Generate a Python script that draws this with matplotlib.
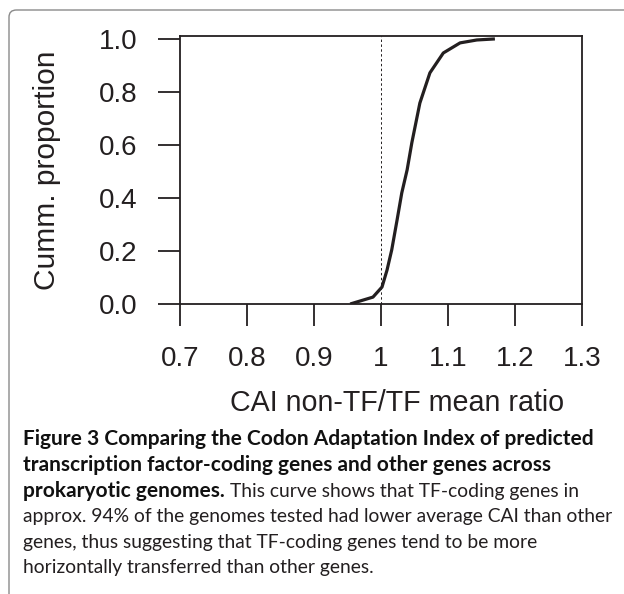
import matplotlib.pyplot as plt
from matplotlib.patches import FancyBboxPatch

# values
ratio = [0.954, 0.988, 1.0015, 1.009, 1.016, 1.024, 1.031, 1.039, 1.046,
         1.058, 1.073, 1.093, 1.118, 1.143, 1.170]
cumprop = [0.0, 0.026, 0.064, 0.128, 0.204, 0.317, 0.419, 0.506, 0.608,
           0.758, 0.872, 0.947, 0.985, 0.996, 1.0]
xticks = [0.7, 0.8, 0.9, 1.0, 1.1, 1.2, 1.3]
xticklabels = ['0.7', '0.8', '0.9', '1', '1.1', '1.2', '1.3']
yticks = [0.0, 0.2, 0.4, 0.6, 0.8, 1.0]
yticklabels = ['0.0', '0.2', '0.4', '0.6', '0.8', '1.0']

ink = '#231f20'
W, H = 624, 594

fig = plt.figure(figsize=(6.24, 5.94), dpi=100)
plt.rcParams['font.family'] = 'Liberation Sans'

# rounded frame, open to the right and bottom
fig.patches.append(FancyBboxPatch((9 / W, -0.2), 1.2, 1 - 10 / H + 0.2,
                                  boxstyle='round,pad=0,rounding_size=0.012',
                                  transform=fig.transFigure, fc='none',
                                  ec='#8a8a8a', lw=1.0))

ax = fig.add_axes([180 / W, 1 - 304 / H, 402 / W, 268 / H])
ax.plot(ratio, cumprop, color=ink, lw=2.3, solid_capstyle='butt')
ax.axvline(1.0, color=ink, lw=0.7, ls=(0, (2.5, 2.5)))
ax.set_xlim(0.7, 1.3)
ax.set_ylim(0, 1.011)
for s in ax.spines.values():
    s.set_linewidth(1.3)
    s.set_color(ink)
ax.set_xticks(xticks)
ax.set_xticklabels(xticklabels)
ax.set_yticks(yticks)
ax.set_yticklabels(yticklabels)
ax.tick_params(direction='out', length=15.5, width=1.3, color=ink,
               labelsize=20, labelcolor=ink, pad=15)

fig.text(47 / W, 1 - 170 / H, 'Cumm. proportion', rotation=90,
         ha='center', va='center', fontsize=21.5, color=ink)
fig.text(397 / W, 1 - 403 / H, 'CAI non-TF/TF mean ratio',
         ha='center', va='center', fontsize=20.6, color=ink)

# caption
cap_font = 'Lato'
x0 = 23
base = [445, 471, 497, 522, 548, 573]
bold_lines = ['Figure 3 Comparing the Codon Adaptation Index of predicted',
              'transcription factor-coding genes and other genes across']
plain = ['approx. 94% of the genomes tested had lower average CAI than other',
         'genes, thus suggesting that TF-coding genes tend to be more',
         'horizontally transferred than other genes.']
r = fig.canvas.get_renderer()


def fit_size(text, weight, target):
    t = fig.text(0, 0, text, fontsize=10, fontweight=weight, family=cap_font)
    w = t.get_window_extent(renderer=r).width
    t.remove()
    return 10 * target / w


bold_size = fit_size(bold_lines[0], 'bold', 592 - x0)
plain_size = fit_size(plain[0], 'normal', 615 - x0)

for i, t in enumerate(bold_lines):
    fig.text(x0 / W, 1 - base[i] / H, t, fontsize=bold_size, fontweight='bold',
             family=cap_font, color='#111111', va='baseline')
b = fig.text(x0 / W, 1 - base[2] / H, 'prokaryotic genomes.', fontsize=bold_size,
             fontweight='bold', family=cap_font, color='#111111', va='baseline')
bb = b.get_window_extent(renderer=r)
fig.text((bb.x1 + 5) / W, 1 - base[2] / H,
         'This curve shows that TF-coding genes in', fontsize=plain_size,
         family=cap_font, color=ink, va='baseline')
for i, t in enumerate(plain):
    fig.text(x0 / W, 1 - base[3 + i] / H, t, fontsize=plain_size,
             family=cap_font, color=ink, va='baseline')

fig.savefig('out.png', dpi=100)
